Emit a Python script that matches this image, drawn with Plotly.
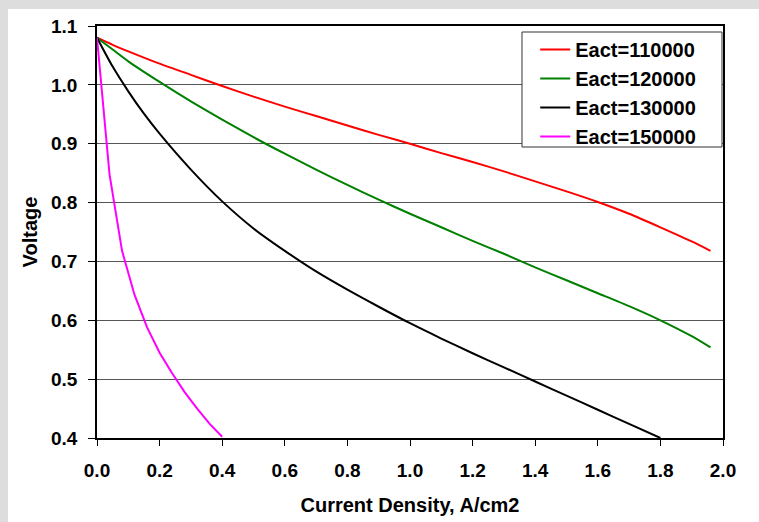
import plotly.graph_objects as go

# Polarization curves: cell voltage vs current density for several activation energies
labels = ["Eact=110000", "Eact=120000", "Eact=130000", "Eact=150000"]
colors = ["#ff0000", "#008000", "#000000", "#ff00ff"]

i_110 = [0, 0.05, 0.1, 0.2, 0.3, 0.4, 0.5, 0.6, 0.7, 0.8, 0.9, 1.0, 1.1, 1.2,
         1.3, 1.4, 1.5, 1.6, 1.7, 1.8, 1.9, 1.96]
v_110 = [1.08, 1.068, 1.057, 1.036, 1.017, 0.998, 0.980, 0.963, 0.947, 0.931,
         0.915, 0.900, 0.884, 0.869, 0.853, 0.836, 0.819, 0.801, 0.781, 0.758,
         0.734, 0.718]

i_120 = [0, 0.05, 0.1, 0.2, 0.3, 0.4, 0.5, 0.6, 0.7, 0.8, 0.9, 1.0, 1.1, 1.2,
         1.3, 1.4, 1.5, 1.6, 1.7, 1.8, 1.9, 1.96]
v_120 = [1.08, 1.060, 1.040, 1.005, 0.972, 0.941, 0.911, 0.883, 0.856, 0.830,
         0.805, 0.781, 0.758, 0.735, 0.713, 0.690, 0.668, 0.646, 0.624, 0.600,
         0.573, 0.554]

i_130 = [0, 0.05, 0.1, 0.15, 0.2, 0.3, 0.4, 0.5, 0.6, 0.7, 0.8, 0.9, 1.0, 1.1,
         1.2, 1.3, 1.4, 1.5, 1.6, 1.7, 1.8]
v_130 = [1.08, 1.031, 0.989, 0.951, 0.917, 0.856, 0.802, 0.756, 0.718, 0.683,
         0.652, 0.623, 0.595, 0.569, 0.544, 0.520, 0.496, 0.472, 0.448, 0.424,
         0.400]

i_150 = [0, 0.04, 0.08, 0.12, 0.16, 0.20, 0.24, 0.28, 0.32, 0.36, 0.40]
v_150 = [1.08, 0.848, 0.718, 0.643, 0.588, 0.545, 0.510, 0.478, 0.450, 0.424,
         0.402]

series = [(i_110, v_110), (i_120, v_120), (i_130, v_130), (i_150, v_150)]
shapes_of_line = ["spline", "spline", "spline", "linear"]

FONT = "Liberation Sans, Arial, sans-serif"

fig = go.Figure()
for (xs, ys), name, col, shp in zip(series, labels, colors, shapes_of_line):
    line = dict(color=col, width=2, shape=shp)
    if shp == "spline":
        line["smoothing"] = 0.6
    fig.add_trace(go.Scatter(x=xs, y=ys, mode="lines", name=name, line=line))

# opaque legend frame (paper coordinates of the plot area)
legend_box = dict(
    type="rect", xref="paper", yref="paper",
    x0=0.6789, x1=0.9984, y0=0.7063, y1=0.9854,
    fillcolor="#ffffff", line=dict(color="#333333", width=1), layer="above",
)
# white panel over the grey page frame
panel = dict(
    type="rect", xref="paper", yref="paper",
    x0=-0.1422, x1=1.2, y0=-0.4, y1=1.0413,
    fillcolor="#ffffff", line=dict(width=0), layer="below",
)

fig.update_layout(
    width=759, height=522,
    margin=dict(l=97, r=36, t=26, b=84),
    paper_bgcolor="#dddddd",
    plot_bgcolor="#ffffff",
    font=dict(family=FONT, color="#000000", size=19, weight="bold"),
    showlegend=True,
    legend=dict(
        x=0.7, y=0.99, xanchor="left", yanchor="top",
        bgcolor="rgba(0,0,0,0)", borderwidth=0,
        font=dict(family=FONT, size=20, weight="bold", color="#000000"),
    ),
    shapes=[panel, legend_box],
)

fig.update_xaxes(
    range=[0, 2], dtick=0.2, tick0=0, tickformat=".1f", automargin=False,
    showgrid=False, zeroline=False,
    showline=True, linecolor="#000000", linewidth=1.5, mirror=True,
    ticks="outside", ticklen=6, tickcolor="#000000", tickwidth=1,
    ticklabelstandoff=8,
    tickfont=dict(family=FONT, size=19, weight="bold"),
    title=dict(text="Current Density, A/cm2",
               font=dict(family=FONT, size=20, weight="bold"), standoff=18),
)
fig.update_yaxes(
    range=[0.4, 1.1], dtick=0.1, tick0=0.4, tickformat=".1f", automargin=False,
    showgrid=True, gridcolor="#555555", gridwidth=1, zeroline=False,
    showline=True, linecolor="#000000", linewidth=1.5, mirror=True,
    ticks="outside", ticklen=7, tickcolor="#000000", tickwidth=1,
    ticklabelstandoff=7,
    tickfont=dict(family=FONT, size=19, weight="bold"),
    title=dict(text="Voltage",
               font=dict(family=FONT, size=20, weight="bold"), standoff=8),
)

fig.write_html("out.html")
